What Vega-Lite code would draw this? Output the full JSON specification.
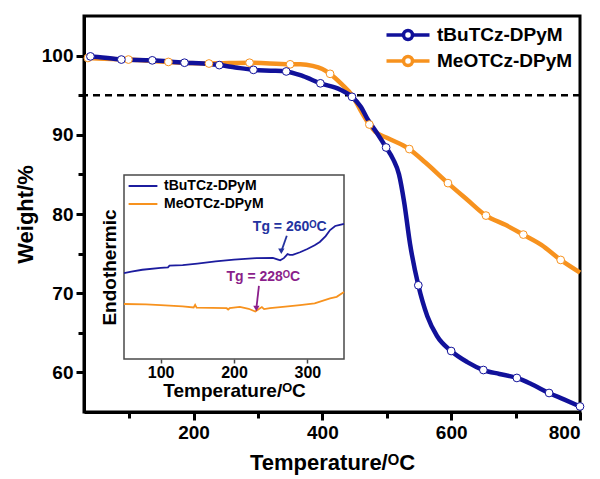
{
  "$schema": "https://vega.github.io/schema/vega-lite/v6.json",
  "width": 496,
  "height": 396,
  "autosize": {"type": "none"},
  "padding": {"left": 84, "top": 16, "right": 20, "bottom": 67},
  "background": "white",
  "config": {
    "font": "Liberation Sans",
    "view": {"stroke": null},
    "axis": {"labelFont": "Liberation Sans", "titleFont": "Liberation Sans", "labelFontWeight": "bold", "titleFontWeight": "bold", "labelColor": "black", "titleColor": "black", "grid": false},
    "legend": {"labelFont": "Liberation Sans", "labelFontWeight": "bold", "labelColor": "black"}
  },
  "datasets": {
    "tga": [
      {"sample": "MeOTCz-DPyM", "T": 33, "w": 99.8},
      {"sample": "MeOTCz-DPyM", "T": 36, "w": 99.7},
      {"sample": "MeOTCz-DPyM", "T": 99, "w": 99.5},
      {"sample": "MeOTCz-DPyM", "T": 161, "w": 99.2},
      {"sample": "MeOTCz-DPyM", "T": 224, "w": 99.0},
      {"sample": "MeOTCz-DPyM", "T": 287, "w": 99.1},
      {"sample": "MeOTCz-DPyM", "T": 350, "w": 98.9},
      {"sample": "MeOTCz-DPyM", "T": 366, "w": 98.9},
      {"sample": "MeOTCz-DPyM", "T": 385, "w": 98.7},
      {"sample": "MeOTCz-DPyM", "T": 400, "w": 98.3},
      {"sample": "MeOTCz-DPyM", "T": 412, "w": 97.7},
      {"sample": "MeOTCz-DPyM", "T": 430, "w": 96.4},
      {"sample": "MeOTCz-DPyM", "T": 446, "w": 95.0},
      {"sample": "MeOTCz-DPyM", "T": 460, "w": 93.0},
      {"sample": "MeOTCz-DPyM", "T": 473, "w": 91.3},
      {"sample": "MeOTCz-DPyM", "T": 482, "w": 90.4},
      {"sample": "MeOTCz-DPyM", "T": 501, "w": 89.6},
      {"sample": "MeOTCz-DPyM", "T": 535, "w": 88.2},
      {"sample": "MeOTCz-DPyM", "T": 560, "w": 86.5},
      {"sample": "MeOTCz-DPyM", "T": 595, "w": 83.9},
      {"sample": "MeOTCz-DPyM", "T": 625, "w": 81.8},
      {"sample": "MeOTCz-DPyM", "T": 654, "w": 79.8},
      {"sample": "MeOTCz-DPyM", "T": 685, "w": 78.6},
      {"sample": "MeOTCz-DPyM", "T": 712, "w": 77.4},
      {"sample": "MeOTCz-DPyM", "T": 740, "w": 76.1},
      {"sample": "MeOTCz-DPyM", "T": 770, "w": 74.2},
      {"sample": "MeOTCz-DPyM", "T": 800, "w": 72.6},
      {"sample": "tBuTCz-DPyM", "T": 35, "w": 99.9},
      {"sample": "tBuTCz-DPyM", "T": 40, "w": 99.9},
      {"sample": "tBuTCz-DPyM", "T": 88, "w": 99.5},
      {"sample": "tBuTCz-DPyM", "T": 136, "w": 99.4},
      {"sample": "tBuTCz-DPyM", "T": 186, "w": 99.1},
      {"sample": "tBuTCz-DPyM", "T": 215, "w": 99.0},
      {"sample": "tBuTCz-DPyM", "T": 240, "w": 98.8},
      {"sample": "tBuTCz-DPyM", "T": 265, "w": 98.5},
      {"sample": "tBuTCz-DPyM", "T": 293, "w": 98.2},
      {"sample": "tBuTCz-DPyM", "T": 320, "w": 98.1},
      {"sample": "tBuTCz-DPyM", "T": 344, "w": 98.0},
      {"sample": "tBuTCz-DPyM", "T": 370, "w": 97.4},
      {"sample": "tBuTCz-DPyM", "T": 397, "w": 96.5},
      {"sample": "tBuTCz-DPyM", "T": 428, "w": 95.7},
      {"sample": "tBuTCz-DPyM", "T": 446, "w": 94.8},
      {"sample": "tBuTCz-DPyM", "T": 460, "w": 93.5},
      {"sample": "tBuTCz-DPyM", "T": 470, "w": 92.0},
      {"sample": "tBuTCz-DPyM", "T": 485, "w": 90.2},
      {"sample": "tBuTCz-DPyM", "T": 499, "w": 88.4},
      {"sample": "tBuTCz-DPyM", "T": 510, "w": 86.9},
      {"sample": "tBuTCz-DPyM", "T": 519, "w": 85.0},
      {"sample": "tBuTCz-DPyM", "T": 527, "w": 81.5},
      {"sample": "tBuTCz-DPyM", "T": 536, "w": 76.3},
      {"sample": "tBuTCz-DPyM", "T": 549, "w": 71.0},
      {"sample": "tBuTCz-DPyM", "T": 563, "w": 67.1},
      {"sample": "tBuTCz-DPyM", "T": 578, "w": 64.6},
      {"sample": "tBuTCz-DPyM", "T": 600, "w": 62.7},
      {"sample": "tBuTCz-DPyM", "T": 625, "w": 61.3},
      {"sample": "tBuTCz-DPyM", "T": 650, "w": 60.3},
      {"sample": "tBuTCz-DPyM", "T": 675, "w": 59.8},
      {"sample": "tBuTCz-DPyM", "T": 702, "w": 59.3},
      {"sample": "tBuTCz-DPyM", "T": 725, "w": 58.5},
      {"sample": "tBuTCz-DPyM", "T": 752, "w": 57.4},
      {"sample": "tBuTCz-DPyM", "T": 775, "w": 56.6},
      {"sample": "tBuTCz-DPyM", "T": 800, "w": 55.7}
    ],
    "marks": [
      {"sample": "MeOTCz-DPyM", "T": 36, "w": 99.7},
      {"sample": "MeOTCz-DPyM", "T": 99, "w": 99.5},
      {"sample": "MeOTCz-DPyM", "T": 161, "w": 99.2},
      {"sample": "MeOTCz-DPyM", "T": 224, "w": 99.0},
      {"sample": "MeOTCz-DPyM", "T": 287, "w": 99.1},
      {"sample": "MeOTCz-DPyM", "T": 350, "w": 98.9},
      {"sample": "MeOTCz-DPyM", "T": 412, "w": 97.7},
      {"sample": "MeOTCz-DPyM", "T": 473, "w": 91.3},
      {"sample": "MeOTCz-DPyM", "T": 535, "w": 88.2},
      {"sample": "MeOTCz-DPyM", "T": 595, "w": 83.9},
      {"sample": "MeOTCz-DPyM", "T": 654, "w": 79.8},
      {"sample": "MeOTCz-DPyM", "T": 712, "w": 77.4},
      {"sample": "MeOTCz-DPyM", "T": 770, "w": 74.2},
      {"sample": "tBuTCz-DPyM", "T": 40, "w": 99.9},
      {"sample": "tBuTCz-DPyM", "T": 88, "w": 99.5},
      {"sample": "tBuTCz-DPyM", "T": 136, "w": 99.4},
      {"sample": "tBuTCz-DPyM", "T": 186, "w": 99.1},
      {"sample": "tBuTCz-DPyM", "T": 240, "w": 98.8},
      {"sample": "tBuTCz-DPyM", "T": 293, "w": 98.2},
      {"sample": "tBuTCz-DPyM", "T": 344, "w": 98.0},
      {"sample": "tBuTCz-DPyM", "T": 397, "w": 96.5},
      {"sample": "tBuTCz-DPyM", "T": 446, "w": 94.8},
      {"sample": "tBuTCz-DPyM", "T": 499, "w": 88.4},
      {"sample": "tBuTCz-DPyM", "T": 549, "w": 71.0},
      {"sample": "tBuTCz-DPyM", "T": 600, "w": 62.7},
      {"sample": "tBuTCz-DPyM", "T": 650, "w": 60.3},
      {"sample": "tBuTCz-DPyM", "T": 702, "w": 59.3},
      {"sample": "tBuTCz-DPyM", "T": 752, "w": 57.4},
      {"sample": "tBuTCz-DPyM", "T": 800, "w": 55.7}
    ],
    "dsc": [
      {"series": "tBuTCz-DPyM", "T": 50, "h": 46.7},
      {"series": "tBuTCz-DPyM", "T": 60, "h": 47.5},
      {"series": "tBuTCz-DPyM", "T": 75, "h": 48.5},
      {"series": "tBuTCz-DPyM", "T": 100, "h": 49.5},
      {"series": "tBuTCz-DPyM", "T": 110, "h": 49.8},
      {"series": "tBuTCz-DPyM", "T": 112, "h": 50.7},
      {"series": "tBuTCz-DPyM", "T": 130, "h": 51.0},
      {"series": "tBuTCz-DPyM", "T": 150, "h": 51.8},
      {"series": "tBuTCz-DPyM", "T": 175, "h": 53.0},
      {"series": "tBuTCz-DPyM", "T": 200, "h": 54.0},
      {"series": "tBuTCz-DPyM", "T": 230, "h": 54.8},
      {"series": "tBuTCz-DPyM", "T": 253, "h": 54.9},
      {"series": "tBuTCz-DPyM", "T": 258, "h": 54.3},
      {"series": "tBuTCz-DPyM", "T": 263, "h": 53.6},
      {"series": "tBuTCz-DPyM", "T": 268, "h": 54.8},
      {"series": "tBuTCz-DPyM", "T": 273, "h": 57.0},
      {"series": "tBuTCz-DPyM", "T": 276, "h": 56.6},
      {"series": "tBuTCz-DPyM", "T": 280, "h": 56.6},
      {"series": "tBuTCz-DPyM", "T": 290, "h": 58.0},
      {"series": "tBuTCz-DPyM", "T": 300, "h": 59.8},
      {"series": "tBuTCz-DPyM", "T": 310, "h": 61.8},
      {"series": "tBuTCz-DPyM", "T": 317, "h": 63.6},
      {"series": "tBuTCz-DPyM", "T": 325, "h": 66.8},
      {"series": "tBuTCz-DPyM", "T": 331, "h": 70.1},
      {"series": "tBuTCz-DPyM", "T": 338, "h": 72.3},
      {"series": "tBuTCz-DPyM", "T": 343, "h": 72.8},
      {"series": "tBuTCz-DPyM", "T": 350, "h": 73.5},
      {"series": "MeOTCz-DPyM", "T": 50, "h": 29.9},
      {"series": "MeOTCz-DPyM", "T": 80, "h": 29.7},
      {"series": "MeOTCz-DPyM", "T": 100, "h": 29.3},
      {"series": "MeOTCz-DPyM", "T": 130, "h": 28.6},
      {"series": "MeOTCz-DPyM", "T": 145, "h": 28.0},
      {"series": "MeOTCz-DPyM", "T": 147, "h": 29.4},
      {"series": "MeOTCz-DPyM", "T": 149, "h": 27.9},
      {"series": "MeOTCz-DPyM", "T": 170, "h": 27.8},
      {"series": "MeOTCz-DPyM", "T": 190, "h": 27.6},
      {"series": "MeOTCz-DPyM", "T": 192, "h": 26.9},
      {"series": "MeOTCz-DPyM", "T": 194, "h": 27.6},
      {"series": "MeOTCz-DPyM", "T": 208, "h": 28.3},
      {"series": "MeOTCz-DPyM", "T": 220, "h": 27.3},
      {"series": "MeOTCz-DPyM", "T": 229, "h": 25.8},
      {"series": "MeOTCz-DPyM", "T": 234, "h": 27.2},
      {"series": "MeOTCz-DPyM", "T": 238, "h": 28.2},
      {"series": "MeOTCz-DPyM", "T": 241, "h": 27.1},
      {"series": "MeOTCz-DPyM", "T": 249, "h": 27.7},
      {"series": "MeOTCz-DPyM", "T": 270, "h": 28.5},
      {"series": "MeOTCz-DPyM", "T": 290, "h": 29.3},
      {"series": "MeOTCz-DPyM", "T": 310, "h": 30.2},
      {"series": "MeOTCz-DPyM", "T": 331, "h": 33.0},
      {"series": "MeOTCz-DPyM", "T": 340, "h": 33.8},
      {"series": "MeOTCz-DPyM", "T": 350, "h": 36.4}
    ],
    "tg": [
      {"series": "tBuTCz-DPyM", "T": 276, "h": 72, "T2": 272, "h2": 67, "Ta": 264.5, "ha": 58.5, "label": "Tg = 260ᴼC"},
      {"series": "MeOTCz-DPyM", "T": 240, "h": 44.5, "T2": 234, "h2": 39.7, "Ta": 230.5, "ha": 27.5, "label": "Tg = 228ᴼC"}
    ]
  },
  "layer": [
    {
      "layer": [
        {
          "data": {"values": [{"T0": 30, "T1": 800, "w0": 55, "w1": 105}]},
          "mark": {"type": "rect", "fill": null, "fillOpacity": 0, "stroke": "black", "strokeWidth": 3},
          "encoding": {
            "x": {"field": "T0", "type": "quantitative", "scale": {"domain": [30, 800], "nice": false, "zero": false},
              "axis": {"orient": "bottom", "title": "Temperature/ᴼC", "values": [100, 200, 300, 400, 500, 600, 700, 800],
                "labelExpr": "datum.value % 200 === 0 ? datum.label : ''",
                "tickSize": {"condition": {"test": "datum.value % 200 === 0", "value": 8}, "value": 6},
                "tickWidth": 3, "tickColor": "black", "domainColor": "black", "domainWidth": 3,
                "labelFontSize": 19, "labelPadding": 3, "titleFontSize": 22, "titlePadding": 10}},
            "x2": {"field": "T1"},
            "y": {"field": "w0", "type": "quantitative", "scale": {"domain": [55, 105], "nice": false, "zero": false},
              "axis": {"orient": "left", "title": "Weight/%", "values": [60, 65, 70, 75, 80, 85, 90, 95, 100],
                "labelExpr": "datum.value % 10 === 0 ? datum.label : ''",
                "tickSize": {"condition": {"test": "datum.value % 10 === 0", "value": 8}, "value": 6},
                "tickWidth": 3, "tickColor": "black", "domainColor": "black", "domainWidth": 3,
                "labelFontSize": 19, "labelPadding": 3, "titleFontSize": 22, "titlePadding": 4}},
            "y2": {"field": "w1"}
          }
        },
        {
          "data": {"values": [{"y": 95}]},
          "mark": {"type": "rule", "strokeDash": [7, 5], "strokeWidth": 2.5, "color": "black"},
          "encoding": {"y": {"field": "y", "type": "quantitative"}}
        },
        {
          "data": {"name": "tga"},
          "mark": {"type": "line", "strokeWidth": 4.5, "interpolate": "monotone"},
          "encoding": {
            "x": {"field": "T", "type": "quantitative"},
            "y": {"field": "w", "type": "quantitative"},
            "stroke": {"field": "sample", "type": "nominal",
              "scale": {"domain": ["tBuTCz-DPyM", "MeOTCz-DPyM"], "range": ["#11119a", "#f7921e"]},
              "legend": {"title": null, "orient": "none", "legendX": 312, "legendY": 7, "padding": 0,
                "symbolType": "M-2.15,0L-0.45,0M0.45,0L2.15,0M0.45,0A0.45,0.45,0,1,1,-0.45,0A0.45,0.45,0,1,1,0.45,0Z",
                "symbolSize": 400, "symbolStrokeWidth": 3.5, "symbolFillColor": "white", "labelFontSize": 19, "labelOffset": 17, "rowPadding": 2, "labelLimit": 300}}
          }
        },
        {
          "data": {"name": "marks"},
          "mark": {"type": "point", "shape": "circle", "filled": false, "fill": "white", "fillOpacity": 1, "size": 60, "strokeWidth": 1},
          "encoding": {
            "x": {"field": "T", "type": "quantitative"},
            "y": {"field": "w", "type": "quantitative"},
            "stroke": {"field": "sample", "type": "nominal"}
          }
        }
      ]
    },
    {
      "layer": [
        {
          "data": {"values": [{"T0": 50, "T1": 350, "h0": 0, "h1": 100}]},
          "mark": {"type": "rect", "fill": "white", "stroke": "#4a4a4a", "strokeWidth": 1.5},
          "encoding": {
            "x": {"field": "T0", "type": "quantitative", "scale": {"domain": [50, 350], "range": [40, 260], "nice": false, "zero": false},
              "axis": {"orient": "bottom", "offset": -53, "title": "Temperature/ᴼC", "values": [100, 200, 300], "domain": false,
                "tickSize": 4, "tickWidth": 1.5, "tickColor": "#4a4a4a", "labelFontSize": 16, "labelPadding": 1, "titleFontSize": 19, "titlePadding": 1}},
            "x2": {"field": "T1"},
            "y": {"field": "h0", "type": "quantitative", "scale": {"domain": [0, 100], "range": [343, 159], "nice": false, "zero": false},
              "axis": {"orient": "left", "offset": -40, "title": "Endothermic", "labels": false, "ticks": false, "domain": false, "titleFontSize": 19, "titlePadding": 5}},
            "y2": {"field": "h1"}
          }
        },
        {
          "data": {"name": "dsc"},
          "mark": {"type": "line", "strokeWidth": 1.8},
          "encoding": {
            "x": {"field": "T", "type": "quantitative"},
            "y": {"field": "h", "type": "quantitative"},
            "stroke": {"field": "series", "type": "nominal",
              "scale": {"domain": ["tBuTCz-DPyM", "MeOTCz-DPyM"], "range": ["#1c1c9e", "#f7921e"]},
              "legend": {"title": null, "orient": "none", "legendX": 50, "legendY": 161, "padding": 0,
                "symbolType": "M-1.8,0L1.8,0", "symbolSize": 256, "symbolStrokeWidth": 2, "labelFontSize": 14, "labelOffset": 12, "rowPadding": 2}}
          }
        },
        {
          "data": {"name": "tg"},
          "mark": {"type": "text", "fontSize": 14, "fontWeight": "bold", "font": "Liberation Sans"},
          "encoding": {
            "x": {"field": "T", "type": "quantitative"},
            "y": {"field": "h", "type": "quantitative"},
            "text": {"field": "label"},
            "color": {"field": "series", "type": "nominal", "scale": {"domain": ["tBuTCz-DPyM", "MeOTCz-DPyM"], "range": ["#2433a0", "#8b1f8b"]}, "legend": null}
          }
        },
        {
          "data": {"name": "tg"},
          "mark": {"type": "rule", "strokeWidth": 1.8},
          "encoding": {
            "x": {"field": "T2", "type": "quantitative"},
            "y": {"field": "h2", "type": "quantitative"},
            "x2": {"field": "Ta"},
            "y2": {"field": "ha"},
            "color": {"field": "series", "type": "nominal", "legend": null}
          }
        },
        {
          "data": {"name": "tg"},
          "mark": {"type": "point", "shape": "triangle-down", "filled": true, "size": 40, "opacity": 1},
          "encoding": {
            "x": {"field": "Ta", "type": "quantitative"},
            "y": {"field": "ha", "type": "quantitative"},
            "color": {"field": "series", "type": "nominal", "legend": null}
          }
        }
      ]
    }
  ],
  "resolve": {
    "scale": {"x": "independent", "y": "independent", "stroke": "independent", "color": "independent"},
    "axis": {"x": "independent", "y": "independent"},
    "legend": {"stroke": "independent", "color": "independent"}
  }
}
